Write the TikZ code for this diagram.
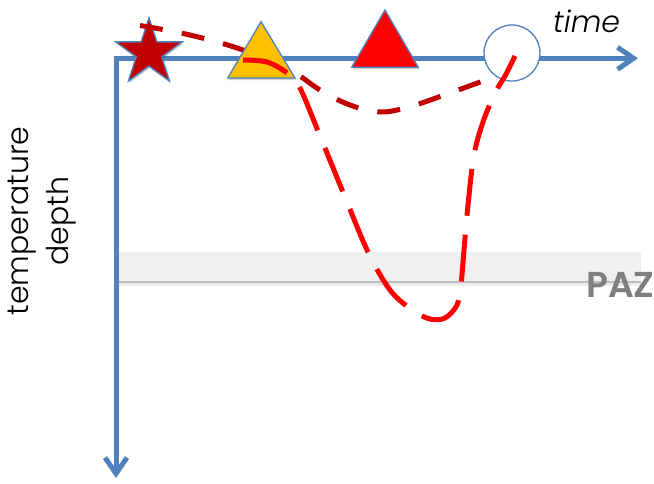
\documentclass[tikz,border=0pt]{standalone}
\usepackage{fontspec}
\newfontfamily\lightfont{Poppins Light}
\newfontfamily\lightitfont{Poppins Light Italic}
\newfontfamily\pazfont{Poppins SemiBold}
\usetikzlibrary{arrows.meta,shadows}
\definecolor{axisblue}{HTML}{4F81BD}
\definecolor{darkred}{HTML}{C00000}
\definecolor{brightred}{HTML}{FF0000}
\definecolor{triyellow}{HTML}{FFC000}
\definecolor{bandgray}{HTML}{F0F0F0}
\definecolor{bandline}{HTML}{BDBDBD}
\definecolor{pazgray}{HTML}{7F7F7F}
\tikzset{
  axisline/.style={draw=axisblue, line width=5pt, line join=miter,
    {Straight Barb[length=16pt,width=22pt]}-{Straight Barb[length=16pt,width=22pt]}},
  shapeborder/.style={draw=axisblue, line width=1.3pt, line join=miter,
    drop shadow={shadow xshift=1pt, shadow yshift=-2pt, opacity=0.18, fill=black}},
  darkcurve/.style={draw=darkred, line width=5pt, dash pattern=on 23pt off 19.5pt},
  brightcurve/.style={draw=brightred, line width=5pt, dash pattern=on 47pt off 19pt},
}
\begin{document}
\begin{tikzpicture}[x=1pt,y=-1pt]
\useasboundingbox[fill=white] (0,0) rectangle (654,483);
% PAZ band
\fill[black, opacity=0.08] (118,282) rectangle (641,286);
\fill[bandgray] (118,252) rectangle (641,282);
\draw[bandline, line width=1.5pt] (118,282) -- (641,282);
\node[font=\pazfont\fontsize{36}{40}\selectfont, text=pazgray, anchor=base west, inner sep=0] (paz) at (586,297) {PAZ};
% axes
\coordinate (origin) at (116,58.3);
\coordinate (tend) at (638,58.3);
\coordinate (dend) at (116,478);
\draw[axisline] (tend) -- (origin) -- (dend);
\node[font=\lightitfont\fontsize{30}{36}\selectfont, anchor=base west, inner sep=0] (time) at (553,32) {time};
\node[rotate=90, align=center, font=\lightfont\fontsize{30}{40}\selectfont, inner sep=0] (lab) at (42,221) {temperature\\depth};
% star
\coordinate (starc) at (149,52.7);
\path[shapeborder, fill=darkred] (starc) +(-90:35) -- +(-54:13.4) -- +(-18:35) -- +(18:13.4) -- +(54:35)
  -- +(90:13.4) -- +(126:35) -- +(162:13.4) -- +(198:35) -- +(234:13.4) -- cycle;
% dark red path (cooling)
\draw[darkcurve] plot[smooth, tension=0.6] coordinates {(140,25.5) (190,35) (243,50) (290,70) (320,90) (350,105) (381,112) (412,106) (447,94) (483,81)};
% yellow triangle
\coordinate (ya) at (261,21.7);
\coordinate (yl) at (227.7,78);
\coordinate (yr) at (295,78);
\path[shapeborder, fill=triyellow] (ya) -- (yr) -- (yl) -- cycle;
% red triangle
\coordinate (ra) at (385,10);
\coordinate (rl) at (351.7,67.3);
\coordinate (rr) at (418.3,67.3);
\path[shapeborder, fill=brightred] (ra) -- (rr) -- (rl) -- cycle;
% circle
\node[circle, draw=axisblue, fill=white, line width=1.3pt, minimum size=56pt, inner sep=0] (tc) at (512,53) {};
% bright red path (burial)
\draw[brightcurve] plot[smooth, tension=0.55] coordinates {(243,60) (267,62) (287,73) (300,88) (320,136) (345,197) (368,252) (390,290) (412,310) (430,319) (445,318) (457,305) (461,285) (464,250) (468,205) (474,155) (483,122) (495,93) (505,76) (515,56)};
\end{tikzpicture}
\end{document}
